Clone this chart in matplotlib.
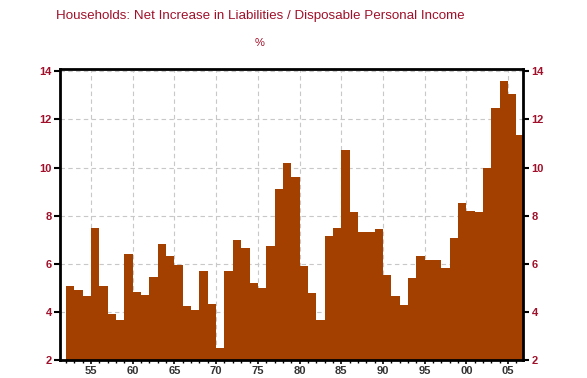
import numpy as np
import matplotlib.pyplot as plt
from matplotlib.ticker import MultipleLocator, FixedLocator

# annual data, 1952-2006
years = np.arange(1952, 2007)
values = [5.07, 4.90, 4.65, 7.47, 5.07, 3.90, 3.65, 6.40, 4.83, 4.72,
          5.45, 6.82, 6.32, 5.95, 4.24, 4.07, 5.70, 4.32, 2.49, 5.70,
          6.99, 6.65, 5.20, 4.99, 6.74, 9.11, 10.20, 9.61, 5.90, 4.78,
          3.67, 7.15, 7.49, 10.71, 8.15, 7.32, 7.32, 7.43, 5.53, 4.65,
          4.28, 5.39, 6.32, 6.15, 6.15, 5.81, 7.06, 8.53, 8.20, 8.15,
          9.97, 12.47, 13.61, 13.07, 11.35]
xtick_years = [1955, 1960, 1965, 1970, 1975, 1980, 1985, 1990, 1995, 2000, 2005]
xtick_labels = ['55', '60', '65', '70', '75', '80', '85', '90', '95', '00', '05']

red = '#A0102A'
plt.rcParams['font.family'] = 'Liberation Sans'

fig = plt.figure(figsize=(5.87, 3.78), dpi=100)
ax = fig.add_axes([0.1022, 0.0476, 0.789, 0.770])

ax.bar(years, values, width=1.0, align='edge', color='#A34000', linewidth=0, zorder=2)

ax.set_xlim(1951.28, 2006.8)
ax.set_ylim(2, 14.1)
ax.yaxis.set_major_locator(MultipleLocator(2))
ax.xaxis.set_major_locator(FixedLocator(xtick_years))
ax.xaxis.set_minor_locator(MultipleLocator(1))
ax.set_xticklabels(xtick_labels)

ax.grid(True, color='#c8c8c8', linestyle=(0, (4, 3)), linewidth=0.8, zorder=0)

for s in ax.spines.values():
    s.set_linewidth(2)
ax.tick_params(axis='y', which='major', direction='out', length=4, width=1.5,
               labelsize=8, labelcolor=red, left=True, right=True,
               labelleft=True, labelright=True, pad=2)
ax.tick_params(axis='x', which='major', direction='out', length=3, width=1.2,
               labelsize=8, labelcolor='#333333', pad=1)
ax.tick_params(axis='x', which='minor', direction='out', length=2, width=1)
for lab in ax.get_yticklabels() + ax.get_xticklabels():
    lab.set_fontweight('bold')

fig.text(0.443, 0.957, 'Households: Net Increase in Liabilities / Disposable Personal Income',
         ha='center', va='center', color=red, fontsize=9.6)
fig.text(0.443, 0.886, '%', ha='center', va='center', color=red, fontsize=8)

plt.savefig('out.png', dpi=100)
